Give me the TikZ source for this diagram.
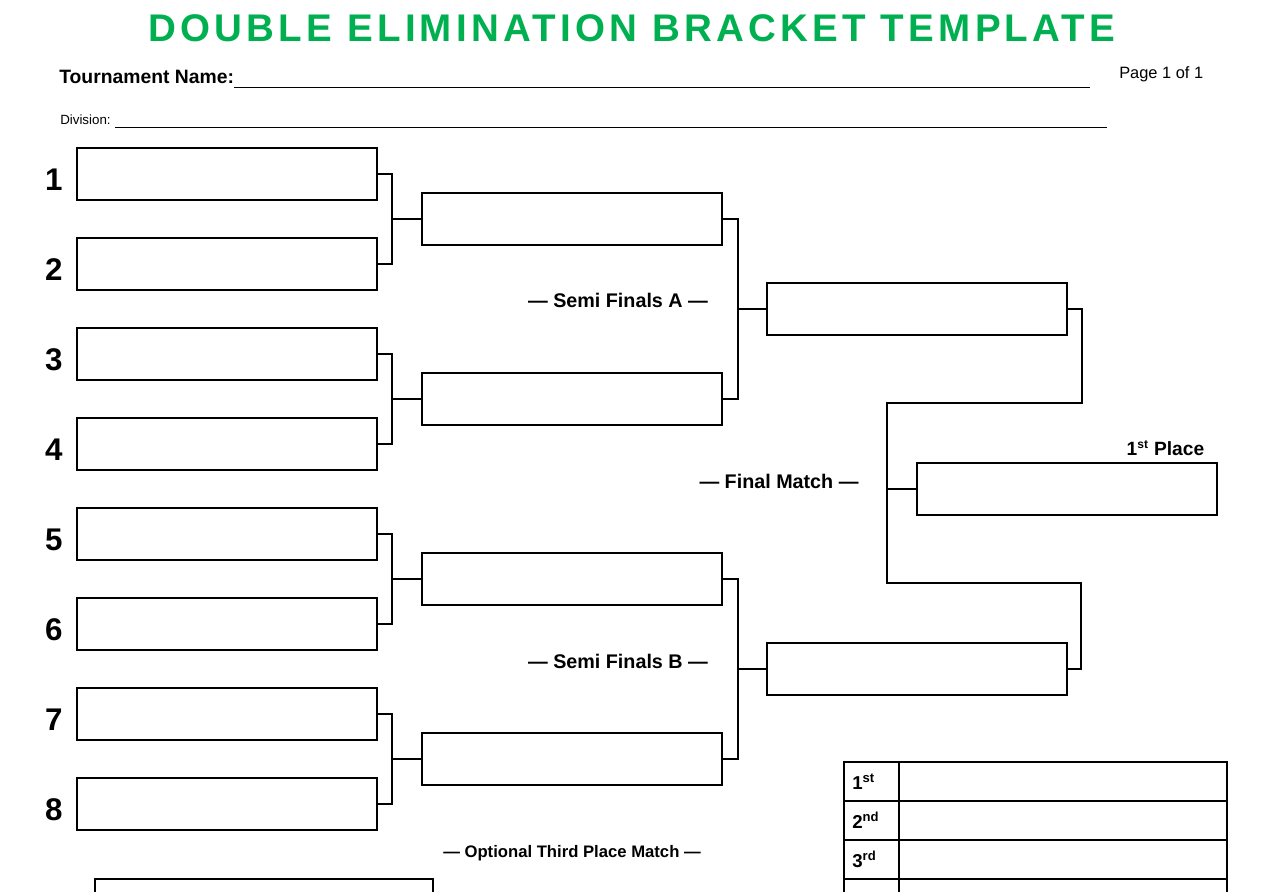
\documentclass[tikz,border=0pt]{standalone}
\usepackage{fontspec}
\setmainfont{Liberation Sans}
\newfontfamily\titlefont[LetterSpace=11]{Liberation Sans}
\usetikzlibrary{positioning}
\definecolor{titlegreen}{RGB}{0,176,80}
\tikzset{
  slot/.style={draw, line width=1.2pt, minimum width=225pt, minimum height=39pt, inner sep=0pt},
  link/.style={line width=1.2pt},
  rule/.style={line width=0.7pt},
  seed/.style={font=\bfseries\fontsize{23.5}{24}\selectfont, inner sep=0pt},
  roundlabel/.style={font=\bfseries\fontsize{14.8}{16}\selectfont, inner sep=0pt},
  cell/.style={draw, line width=0.9pt, minimum height=29.25pt, inner sep=0pt},
  placetxt/.style={font=\bfseries\fontsize{14}{15}\selectfont, inner sep=0pt},
}
\begin{document}
\begin{tikzpicture}[x=0.75pt, y=-0.75pt]
    \useasboundingbox (0,0) rectangle (1261,892);
    \node[font=\titlefont\bfseries\fontsize{28.9}{30}\selectfont, text=titlegreen, inner sep=0pt] (title) at (632,28) {DOUBLE ELIMINATION BRACKET TEMPLATE};
    \node[font=\bfseries\fontsize{14.5}{16}\selectfont, anchor=base west, inner sep=0pt] (tname) at (59,84) {Tournament Name:};
    \coordinate (tname-end) at (1090,87);
    \draw[rule] (tname.base east |- tname-end) -- (tname-end);
    \node[font=\fontsize{12.3}{14}\selectfont, anchor=base west, inner sep=0pt] (page) at (1119,79) {Page 1 of 1};
    \node[font=\fontsize{10}{12}\selectfont, anchor=base west, inner sep=0pt] (division) at (60,125) {Division:};
    \coordinate (division-end) at (1107,127);
    \draw[rule] ([xshift=3pt]division.base east |- division-end) -- (division-end);
    \foreach \i in {1,...,8} {
        \node[slot] (r1-\i) at (227, 84+90*\i) {};
        \node[seed, left=10pt of r1-\i.west, yshift=-4.5pt] (seed-\i) {\i};
    }
    \foreach \i in {1,...,4}
        \node[slot] (r2-\i) at (572, 39+180*\i) {};
    \foreach \i in {1,2}
        \node[slot] (r3-\i) at (917, -51+360*\i) {};
    \node[slot] (fin) at (1067,489) {};
    \node[slot, minimum width=253.5pt] (third) at (264,905) {};
    \foreach \i [evaluate=\i as \a using int(2*\i-1), evaluate=\i as \b using int(2*\i)] in {1,...,4} {
        \draw[link] (r1-\a.east) -- ++(14,0) |- (r2-\i.west);
        \draw[link] (r1-\b.east) -- ++(14,0) |- (r2-\i.west);
    }
    \foreach \i [evaluate=\i as \a using int(2*\i-1), evaluate=\i as \b using int(2*\i)] in {1,2} {
        \draw[link] (r2-\a.east) -- ++(15,0) |- (r3-\i.west);
        \draw[link] (r2-\b.east) -- ++(15,0) |- (r3-\i.west);
    }
    \coordinate (fa) at (887,403);
    \coordinate (fb) at (887,583);
    \draw[link] (r3-1.east) -- ++(14,0) |- (fa) -- (fb) -- ++(194,0) |- (r3-2.east);
    \draw[link] (fin.west) -- (fin.west -| fa);
    \node[roundlabel] (semi-a) at (618,300) {--- Semi Finals A ---};
    \node[roundlabel] (semi-b) at (618,661) {--- Semi Finals B ---};
    \node[roundlabel] (final) at (779,481) {--- Final Match ---};
    \node[roundlabel, font=\bfseries\fontsize{12.5}{14}\selectfont] (third-label) at (572,853) {--- Optional Third Place Match ---};
    \node[placetxt, font=\bfseries\fontsize{14.4}{16}\selectfont, anchor=south east] (first-place) at ([xshift=-10pt, yshift=5pt]fin.north east) {1\textsuperscript{\fontsize{9}{9}\selectfont st} Place};
    \foreach \i in {1,...,4} {
        \node[cell, minimum width=41.25pt] (place-\i) at (871.5, 742.5+39*\i) {};
        \node[cell, minimum width=246pt] (name-\i) at (1063, 742.5+39*\i) {};
    }
    \node[placetxt, right=6.5pt of place-1.west] (lab-1) {1\textsuperscript{st}};
    \node[placetxt, right=6.5pt of place-2.west] (lab-2) {2\textsuperscript{nd}};
    \node[placetxt, right=6.5pt of place-3.west] (lab-3) {3\textsuperscript{rd}};
\end{tikzpicture}
\end{document}
